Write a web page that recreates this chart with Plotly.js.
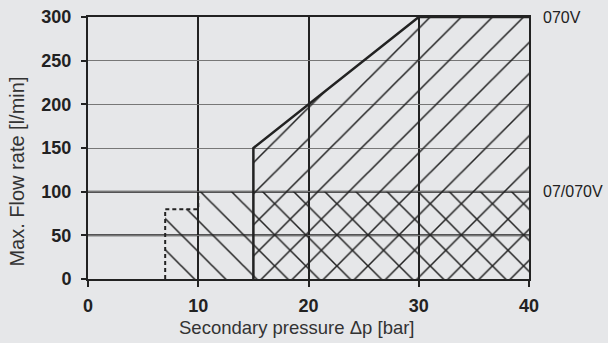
<!DOCTYPE html>
<html>
<head>
<meta charset="utf-8">
<script src="https://cdn.plot.ly/plotly-3.0.1.min.js"></script>
<style>
  html, body { margin: 0; padding: 0; background: #e6e7e9; }
  #chart { width: 608px; height: 343px; }
</style>
</head>
<body>
<div id="chart"></div>
<script>
// Data
const xTicks = [0, 10, 20, 30, 40];
const yTicks = [0, 50, 100, 150, 200, 250, 300];
const darkGridY = [50, 100];
// Region "07/070V" (backslash hatch) boundary
const lowX = [7, 7, 10, 10, 40, 40];
const lowY = [0, 80, 80, 100, 100, 0];
// Region "070V" (forward hatch) boundary
const highX = [15, 15, 30, 40, 40];
const highY = [0, 150, 300, 300, 0];
const seriesLabels = ['070V', '07/070V'];
const labelY = [300, 100];

const tickFam = '"Liberation Sans", Arial, sans-serif';
const textFam = '"Liberation Sans", Arial, sans-serif';
const ink = '#222';

const traces = [
  {
    x: lowX, y: lowY, type: 'scatter', mode: 'none', fill: 'toself',
    fillcolor: 'rgba(0,0,0,0)',
    fillpattern: { shape: '\\', size: 22, solidity: 0.07, fgcolor: ink, bgcolor: 'rgba(0,0,0,0)' },
    hoverinfo: 'skip', showlegend: false
  },
  {
    x: highX, y: highY, type: 'scatter', mode: 'none', fill: 'toself',
    fillcolor: 'rgba(0,0,0,0)',
    fillpattern: { shape: '/', size: 22, solidity: 0.07, fgcolor: ink, bgcolor: 'rgba(0,0,0,0)' },
    hoverinfo: 'skip', showlegend: false
  },
  {
    x: lowX.slice(0, 4), y: lowY.slice(0, 4), type: 'scatter', mode: 'lines',
    line: { color: ink, width: 2, dash: '4px,3px' }, hoverinfo: 'skip', showlegend: false
  },
  {
    x: highX.slice(0, 4), y: highY.slice(0, 4), type: 'scatter', mode: 'lines',
    line: { color: ink, width: 2.5 }, hoverinfo: 'skip', showlegend: false
  }
];

const shapes = darkGridY.map(v => ({
  type: 'line', xref: 'paper', x0: 0, x1: 1, yref: 'y', y0: v, y1: v,
  line: { color: ink, width: 2 }, layer: 'below'
}));

const annotations = seriesLabels.map((t, i) => ({
  text: t, xref: 'paper', x: 1, xanchor: 'left', xshift: 12,
  yref: 'y', y: labelY[i], yanchor: 'middle', showarrow: false,
  font: { family: textFam, size: 16, color: ink }
}));
annotations.push({
  text: 'Max. Flow rate [l/min]', xref: 'paper', x: 0, xanchor: 'center', xshift: -71,
  yref: 'paper', y: 0.41, yanchor: 'middle', textangle: -90, showarrow: false,
  font: { family: textFam, size: 20, color: '#333' }
});
annotations.push({
  text: 'Secondary pressure Δp [bar]', xref: 'paper', x: 0.473, xanchor: 'center',
  yref: 'paper', y: 0, yanchor: 'top', yshift: -36, showarrow: false,
  font: { family: textFam, size: 18.5, color: '#333' }
});

const layout = {
  width: 608, height: 343,
  margin: { l: 88, r: 79, t: 17, b: 64 },
  paper_bgcolor: '#e6e7e9', plot_bgcolor: '#e6e7e9',
  showlegend: false,
  xaxis: {
    range: [0, 40], tickvals: xTicks, ticktext: xTicks.map(String),
    showgrid: true, gridcolor: ink, gridwidth: 2, zeroline: false,
    showline: true, linecolor: ink, linewidth: 2, mirror: true,
    ticks: 'outside', ticklen: 6, tickwidth: 2, tickcolor: ink, ticklabelstandoff: 3,
    tickfont: { family: tickFam, size: 18, color: ink, weight: 'bold' }
  },
  yaxis: {
    range: [0, 300], tickvals: yTicks, ticktext: yTicks.map(String),
    showgrid: true, gridcolor: '#777', gridwidth: 1, zeroline: false,
    showline: true, linecolor: ink, linewidth: 2, mirror: true,
    ticks: 'outside', ticklen: 5, tickwidth: 2, tickcolor: ink, ticklabelstandoff: 6,
    tickfont: { family: tickFam, size: 18, color: ink, weight: 'bold' }
  },
  shapes: shapes,
  annotations: annotations
};

Plotly.newPlot('chart', traces, layout, { displayModeBar: false, staticPlot: true });
</script>
</body>
</html>
